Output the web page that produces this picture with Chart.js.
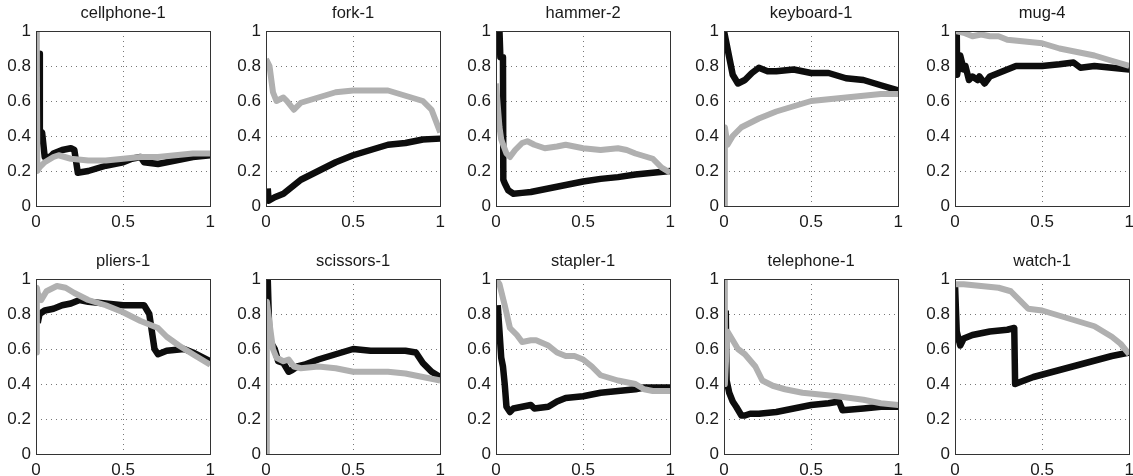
<!DOCTYPE html>
<html>
<head>
<meta charset="utf-8">
<script src="https://cdn.jsdelivr.net/npm/chart.js@4/dist/chart.umd.min.js"></script>
<style>
html,body{margin:0;padding:0;background:#fff;}
body{width:1133px;height:476px;position:relative;overflow:hidden;}
.panel{position:absolute;}
</style>
</head>
<body>
<script>
// ---- data: [x, y] pairs ----
const titles = ['cellphone-1','fork-1','hammer-2','keyboard-1','mug-4','pliers-1','scissors-1','stapler-1','telephone-1','watch-1'];
const xTicks = [0, 0.5, 1];
const yTicks = [0, 0.2, 0.4, 0.6, 0.8, 1];

const cellphoneBlack = [[0.02,0.87],[0.022,0.43],[0.035,0.42],[0.05,0.28],[0.08,0.28],[0.1,0.3],[0.15,0.32],[0.2,0.33],[0.22,0.32],[0.24,0.19],[0.3,0.2],[0.4,0.23],[0.5,0.25],[0.55,0.27],[0.6,0.28],[0.62,0.25],[0.7,0.24],[0.8,0.26],[0.9,0.28],[1.0,0.29]];
const cellphoneGray = [[0.0,1.0],[0.005,0.8],[0.008,0.2],[0.02,0.22],[0.05,0.25],[0.1,0.28],[0.13,0.29],[0.2,0.27],[0.3,0.26],[0.4,0.26],[0.5,0.27],[0.6,0.28],[0.7,0.28],[0.8,0.29],[0.9,0.3],[1.0,0.3]];

const forkBlack = [[0.01,0.1],[0.015,0.03],[0.05,0.05],[0.1,0.07],[0.15,0.11],[0.2,0.15],[0.3,0.2],[0.4,0.25],[0.5,0.29],[0.6,0.32],[0.7,0.35],[0.8,0.36],[0.9,0.38],[1.0,0.385]];
const forkGray = [[0.0,0.84],[0.02,0.8],[0.04,0.65],[0.06,0.6],[0.1,0.62],[0.12,0.6],[0.16,0.55],[0.2,0.59],[0.3,0.62],[0.4,0.65],[0.5,0.66],[0.6,0.66],[0.7,0.66],[0.8,0.63],[0.9,0.6],[0.95,0.55],[1.0,0.42]];

const hammerBlack = [[0.02,1.0],[0.025,0.85],[0.04,0.85],[0.042,0.15],[0.05,0.13],[0.07,0.09],[0.1,0.07],[0.15,0.075],[0.2,0.08],[0.3,0.1],[0.4,0.12],[0.5,0.14],[0.6,0.155],[0.7,0.165],[0.8,0.18],[0.9,0.19],[1.0,0.2]];
const hammerGray = [[0.0,0.7],[0.02,0.45],[0.03,0.38],[0.06,0.3],[0.08,0.28],[0.11,0.32],[0.15,0.36],[0.18,0.37],[0.22,0.35],[0.28,0.33],[0.35,0.34],[0.4,0.35],[0.5,0.33],[0.6,0.32],[0.7,0.33],[0.75,0.32],[0.8,0.3],[0.9,0.27],[0.95,0.22],[1.0,0.19]];

const keyboardBlack = [[0.0,1.0],[0.01,0.95],[0.03,0.85],[0.05,0.75],[0.08,0.7],[0.12,0.72],[0.16,0.76],[0.2,0.79],[0.25,0.77],[0.3,0.77],[0.4,0.78],[0.5,0.76],[0.6,0.76],[0.7,0.73],[0.8,0.72],[0.9,0.69],[1.0,0.66]];
const keyboardGray = [[0.0,0.0],[0.005,0.45],[0.02,0.35],[0.05,0.4],[0.1,0.45],[0.2,0.5],[0.3,0.54],[0.4,0.57],[0.5,0.6],[0.6,0.61],[0.7,0.62],[0.8,0.63],[0.9,0.64],[1.0,0.64]];

const mugBlack = [[0.01,1.0],[0.012,0.75],[0.03,0.86],[0.05,0.78],[0.06,0.8],[0.08,0.72],[0.1,0.74],[0.13,0.72],[0.14,0.74],[0.17,0.7],[0.2,0.74],[0.25,0.76],[0.3,0.78],[0.35,0.8],[0.4,0.8],[0.5,0.8],[0.6,0.81],[0.68,0.82],[0.72,0.79],[0.8,0.8],[0.9,0.79],[1.0,0.78]];
const mugGray = [[0.0,1.0],[0.05,0.99],[0.1,0.97],[0.15,0.98],[0.2,0.97],[0.25,0.97],[0.3,0.95],[0.4,0.94],[0.5,0.93],[0.6,0.9],[0.7,0.88],[0.8,0.86],[0.9,0.83],[1.0,0.8]];

const pliersBlack = [[0.01,0.75],[0.02,0.8],[0.05,0.82],[0.1,0.83],[0.15,0.85],[0.2,0.86],[0.25,0.88],[0.3,0.87],[0.4,0.86],[0.5,0.85],[0.62,0.85],[0.65,0.8],[0.68,0.6],[0.7,0.57],[0.75,0.59],[0.85,0.6],[0.9,0.58],[1.0,0.53]];
const pliersGray = [[0.0,0.58],[0.005,0.95],[0.01,0.92],[0.03,0.88],[0.06,0.93],[0.12,0.96],[0.17,0.95],[0.22,0.92],[0.3,0.88],[0.4,0.85],[0.5,0.81],[0.6,0.76],[0.7,0.72],[0.75,0.67],[0.82,0.62],[0.9,0.57],[1.0,0.51]];

const scissorsBlack = [[0.01,1.0],[0.02,0.65],[0.05,0.6],[0.07,0.53],[0.1,0.52],[0.13,0.47],[0.15,0.48],[0.18,0.5],[0.22,0.51],[0.3,0.54],[0.4,0.57],[0.5,0.6],[0.6,0.59],[0.7,0.59],[0.8,0.59],[0.86,0.58],[0.9,0.52],[0.95,0.47],[1.0,0.44]];
const scissorsGray = [[0.0,0.0],[0.005,0.87],[0.02,0.75],[0.04,0.6],[0.06,0.55],[0.1,0.53],[0.13,0.54],[0.16,0.5],[0.2,0.49],[0.3,0.5],[0.4,0.49],[0.5,0.47],[0.6,0.47],[0.7,0.47],[0.8,0.46],[0.9,0.44],[1.0,0.42]];

const staplerBlack = [[0.01,0.85],[0.02,0.7],[0.03,0.55],[0.04,0.5],[0.05,0.4],[0.06,0.27],[0.08,0.24],[0.1,0.26],[0.15,0.27],[0.2,0.28],[0.22,0.26],[0.3,0.27],[0.35,0.3],[0.4,0.32],[0.5,0.33],[0.6,0.35],[0.7,0.36],[0.8,0.37],[0.85,0.38],[0.9,0.38],[1.0,0.38]];
const staplerGray = [[0.0,1.0],[0.02,0.97],[0.05,0.85],[0.08,0.72],[0.12,0.68],[0.15,0.64],[0.2,0.65],[0.23,0.65],[0.3,0.62],[0.35,0.58],[0.4,0.56],[0.45,0.56],[0.5,0.54],[0.55,0.5],[0.6,0.45],[0.7,0.42],[0.8,0.4],[0.85,0.37],[0.9,0.36],[1.0,0.36]];

const telephoneBlack = [[0.01,0.82],[0.015,0.42],[0.03,0.35],[0.05,0.3],[0.07,0.27],[0.1,0.22],[0.12,0.22],[0.15,0.23],[0.2,0.23],[0.3,0.24],[0.4,0.26],[0.5,0.28],[0.6,0.29],[0.66,0.3],[0.68,0.25],[0.8,0.26],[0.9,0.27],[1.0,0.27]];
const telephoneGray = [[0.0,1.0],[0.005,0.4],[0.02,0.7],[0.05,0.65],[0.08,0.6],[0.12,0.57],[0.18,0.5],[0.22,0.42],[0.28,0.39],[0.35,0.37],[0.45,0.35],[0.55,0.34],[0.65,0.33],[0.8,0.31],[0.9,0.29],[1.0,0.28]];

const watchBlack = [[0.0,0.97],[0.01,0.7],[0.03,0.62],[0.05,0.66],[0.1,0.68],[0.15,0.69],[0.2,0.7],[0.3,0.71],[0.34,0.72],[0.345,0.4],[0.37,0.41],[0.45,0.44],[0.6,0.48],[0.75,0.52],[0.9,0.56],[1.0,0.58]];
const watchGray = [[0.0,0.97],[0.05,0.97],[0.15,0.96],[0.25,0.95],[0.32,0.93],[0.37,0.88],[0.42,0.83],[0.5,0.82],[0.6,0.79],[0.7,0.76],[0.8,0.73],[0.9,0.67],[0.95,0.63],[1.0,0.57]];

const blackSeries = [cellphoneBlack, forkBlack, hammerBlack, keyboardBlack, mugBlack, pliersBlack, scissorsBlack, staplerBlack, telephoneBlack, watchBlack];
const graySeries = [cellphoneGray, forkGray, hammerGray, keyboardGray, mugGray, pliersGray, scissorsGray, staplerGray, telephoneGray, watchGray];

// ---- layout ----
const plotLefts = [36, 266, 496, 724, 955];
const plotTops = [31, 279];
const PLOT = 175, AXW = 31, AXH = 26, TOPPAD = 31, RIGHTPAD = 10;
const FONT = '"Liberation Sans", Arial, Helvetica, sans-serif';

const framePlugin = {
  id: 'frame',
  afterDraw(chart, args, opts) {
    const ctx = chart.ctx, a = chart.chartArea;
    ctx.save();
    ctx.strokeStyle = '#333';
    ctx.lineWidth = 1;
    ctx.strokeRect(Math.round(a.left) + 0.5, Math.round(a.top) + 0.5, Math.round(a.right - a.left), Math.round(a.bottom - a.top));
    ctx.fillStyle = '#1a1a1a';
    ctx.font = 'normal 16.5px "Liberation Sans", Arial, sans-serif';
    ctx.textAlign = 'center';
    ctx.textBaseline = 'middle';
    ctx.fillText(opts.text, (a.left + a.right) / 2, a.top - 18);
    ctx.restore();
  }
};

function gridColor(ctx) {
  const v = ctx.tick ? ctx.tick.value : null;
  if (v === 0 || v === 1) return 'rgba(0,0,0,0)';
  return '#777';
}

titles.forEach((t, i) => {
  const col = i % 5, row = Math.floor(i / 5);
  const div = document.createElement('div');
  div.className = 'panel';
  const W = AXW + PLOT + RIGHTPAD, H = TOPPAD + PLOT + AXH;
  div.style.left = (plotLefts[col] - AXW) + 'px';
  div.style.top = (plotTops[row] - TOPPAD) + 'px';
  div.style.width = W + 'px';
  div.style.height = H + 'px';
  const cv = document.createElement('canvas');
  cv.width = W; cv.height = H;
  cv.style.width = W + 'px'; cv.style.height = H + 'px';
  div.appendChild(cv);
  document.body.appendChild(div);

  new Chart(cv, {
    type: 'line',
    data: {
      datasets: [
        { data: graySeries[i].map(p => ({x: p[0], y: p[1]})), borderColor: '#b0b0b0', borderWidth: 6 },
        { data: blackSeries[i].map(p => ({x: p[0], y: p[1]})), borderColor: '#0d0d0d', borderWidth: 6.5 }
      ]
    },
    options: {
      responsive: false,
      animation: false,
      devicePixelRatio: 1,
      layout: { padding: { top: TOPPAD, right: RIGHTPAD, left: 0, bottom: 0 } },
      elements: { point: { radius: 0 }, line: { tension: 0, borderJoinStyle: 'round', borderCapStyle: 'butt' } },
      plugins: { legend: { display: false }, tooltip: { enabled: false }, frame: { text: t } },
      scales: {
        x: {
          type: 'linear', min: 0, max: 1,
          afterBuildTicks: s => { s.ticks = xTicks.map(v => ({value: v})); },
          afterFit: s => { s.height = AXH; },
          ticks: { padding: 6, color: '#1a1a1a', font: { family: FONT, size: 17 }, maxRotation: 0, callback: v => String(v) },
          grid: { color: gridColor, drawTicks: false },
          border: { display: false, dash: [1, 4] }
        },
        y: {
          type: 'linear', min: 0, max: 1,
          afterBuildTicks: s => { s.ticks = yTicks.map(v => ({value: v})); },
          afterFit: s => { s.width = AXW; },
          ticks: { padding: 5, color: '#1a1a1a', font: { family: FONT, size: 17 }, callback: v => String(v) },
          grid: { color: gridColor, drawTicks: false },
          border: { display: false, dash: [1, 4] }
        }
      }
    },
    plugins: [framePlugin]
  });
});
</script>
</body>
</html>
